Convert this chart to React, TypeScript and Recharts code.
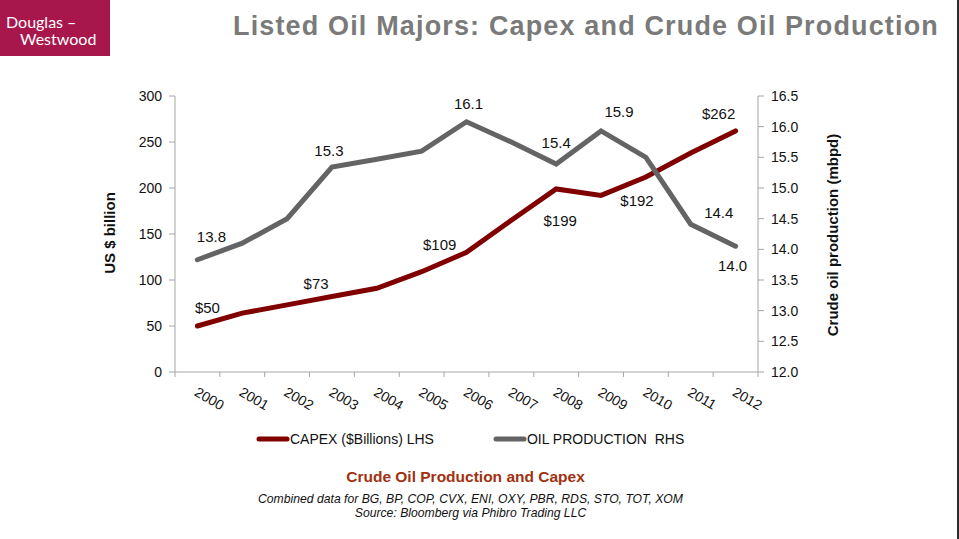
import { ComposedChart, Line, XAxis, YAxis, LabelList } from "recharts";

const years = ["2000", "2001", "2002", "2003", "2004", "2005", "2006", "2007", "2008", "2009", "2010", "2011", "2012"];
const capex = [50, 64, 73, 82, 91, 109, 130, 165, 199, 192, 212, 238, 262];
const oilProduction = [13.83, 14.1, 14.5, 15.34, 15.47, 15.6, 16.08, 15.75, 15.39, 15.93, 15.5, 14.41, 14.05];
const capexLabels = ["$50", null, "$73", null, null, "$109", null, null, "$199", "$192", null, null, "$262"];
const oilLabels = ["13.8", null, null, "15.3", null, null, "16.1", null, "15.4", "15.9", null, "14.4", "14.0"];
const leftTicks = [0, 50, 100, 150, 200, 250, 300];
const rightTicks = [12, 12.5, 13, 13.5, 14, 14.5, 15, 15.5, 16, 16.5];

// where each data label sits relative to its point (px)
const capexLabelNudge: [number, number][] = [[10, -19], [0, 0], [29, -21], [0, 0], [0, 0], [18, -27], [0, 0], [0, 0], [4, 32], [36, 5], [0, 0], [0, 0], [-17, -17]];
const oilLabelNudge: [number, number][] = [[14, -23], [0, 0], [0, 0], [-3, -17], [0, 0], [0, 0], [2, -18], [0, 0], [0, -22], [18, -19], [0, 0], [28, -12], [-3, 19]];

const data = years.map((year, i) => ({
  year,
  capex: capex[i],
  oil: oilProduction[i],
  capexLabel: capexLabels[i],
  oilLabel: oilLabels[i],
}));

const FONT = "'Liberation Sans', Arial, sans-serif";
const AXIS = "#a6a6a6";
const RED = "#800000";
const GREY = "#646464";
const PLOT_LEFT = 175;
const PLOT_RIGHT = 758;
const PLOT_BOTTOM = 372;
const BAND = (PLOT_RIGHT - PLOT_LEFT) / years.length;

const makeLabel = (nudge: [number, number][]) => (props: any) => {
  const { value, index } = props;
  if (value == null) return null;
  const x = props.viewBox?.x ?? props.x;
  const y = props.viewBox?.y ?? props.y;
  const [dx, dy] = nudge[index] || [0, -18];
  return (
    <text
      x={x + dx}
      y={y + dy}
      textAnchor="middle"
      dominantBaseline="central"
      fontSize={15}
      fontFamily={FONT}
      fill="#111"
    >
      {value}
    </text>
  );
};

const YearTick = (props: any) => {
  const { x, payload, index } = props;
  const tx = x - 4;
  const ty = 395;
  return (
    <g>
      <line x1={x - BAND / 2} y1={PLOT_BOTTOM} x2={x - BAND / 2} y2={PLOT_BOTTOM + 5} stroke={AXIS} />
      {index === years.length - 1 && (
        <line x1={x + BAND / 2} y1={PLOT_BOTTOM} x2={x + BAND / 2} y2={PLOT_BOTTOM + 5} stroke={AXIS} />
      )}
      <text
        x={tx}
        y={ty}
        transform={`rotate(30, ${tx}, ${ty})`}
        fontSize={14}
        fontFamily={FONT}
        fill="#111"
      >
        {payload.value}
      </text>
    </g>
  );
};

export default function App() {
  return (
    <div
      style={{
        position: "absolute",
        left: 0,
        top: 0,
        width: 959,
        height: 539,
        background: "#fff",
        fontFamily: FONT,
        overflow: "hidden",
      }}
    >
      {/* logo */}
      <div
        style={{
          position: "absolute",
          left: 0,
          top: 0,
          width: 110,
          height: 56,
          background: "#a8174c",
          color: "#fff",
          fontFamily: "Lato, 'Open Sans', sans-serif",
          fontSize: 16,
          lineHeight: "16px",
        }}
      >
        <div style={{ position: "absolute", left: 6, top: 14 }}>Douglas –</div>
        <div style={{ position: "absolute", left: 20, top: 31 }}>Westwood</div>
      </div>

      <div
        style={{
          position: "absolute",
          left: 233,
          top: 11,
          fontSize: 27,
          letterSpacing: 1.15,
          fontWeight: "bold",
          color: "#7a7a7a",
          whiteSpace: "nowrap",
        }}
      >
        Listed Oil Majors: Capex and Crude Oil Production
      </div>

      <div style={{ position: "absolute", left: 0, top: 0 }}>
        <ComposedChart
          width={959}
          height={539}
          data={data}
          margin={{ top: 96, right: 141, left: 115, bottom: 137 }}
        >
          <XAxis
            dataKey="year"
            height={30}
            interval={0}
            padding={{ left: BAND / 2, right: BAND / 2 }}
            tickLine={false}
            axisLine={{ stroke: AXIS }}
            tick={<YearTick />}
          />
          <YAxis
            yAxisId="left"
            width={60}
            domain={[0, 300]}
            ticks={leftTicks}
            interval={0}
            tickSize={6}
            tickMargin={7}
            axisLine={{ stroke: AXIS }}
            tickLine={{ stroke: AXIS }}
            tick={{ fontSize: 14, fill: "#111", fontFamily: FONT }}
          />
          <YAxis
            yAxisId="right"
            orientation="right"
            width={60}
            domain={[12, 16.5]}
            ticks={rightTicks}
            interval={0}
            tickSize={6}
            tickMargin={7}
            axisLine={{ stroke: AXIS }}
            tickLine={{ stroke: AXIS }}
            tick={{ fontSize: 14, fill: "#111", fontFamily: FONT }}
            tickFormatter={(v: number) => v.toFixed(1)}
          />
          <Line
            yAxisId="left"
            type="linear"
            dataKey="capex"
            stroke={RED}
            strokeWidth={5}
            strokeLinecap="round"
            dot={false}
            activeDot={false}
            isAnimationActive={false}
          >
            <LabelList dataKey="capexLabel" content={makeLabel(capexLabelNudge)} />
          </Line>
          <Line
            yAxisId="right"
            type="linear"
            dataKey="oil"
            stroke={GREY}
            strokeWidth={5}
            strokeLinecap="round"
            dot={false}
            activeDot={false}
            isAnimationActive={false}
          >
            <LabelList dataKey="oilLabel" content={makeLabel(oilLabelNudge)} />
          </Line>
        </ComposedChart>
      </div>

      {/* axis titles */}
      <div
        style={{
          position: "absolute",
          left: 109,
          top: 233,
          transform: "translate(-50%, -50%) rotate(-90deg)",
          fontSize: 15,
          fontWeight: "bold",
          whiteSpace: "nowrap",
          color: "#111",
        }}
      >
        US $ billion
      </div>
      <div
        style={{
          position: "absolute",
          left: 832,
          top: 235,
          transform: "translate(-50%, -50%) rotate(-90deg)",
          fontSize: 15,
          fontWeight: "bold",
          whiteSpace: "nowrap",
          color: "#111",
        }}
      >
        Crude oil production (mbpd)
      </div>

      {/* legend */}
      <div
        style={{
          position: "absolute",
          left: 256,
          top: 431,
          display: "flex",
          alignItems: "center",
          fontSize: 14,
          color: "#111",
          whiteSpace: "pre",
        }}
      >
        <svg width={34} height={8}>
          <line x1={3} y1={4} x2={31} y2={4} stroke={RED} strokeWidth={5} strokeLinecap="round" />
        </svg>
        <span>CAPEX ($Billions) LHS</span>
        <svg width={34} height={8} style={{ marginLeft: 59 }}>
          <line x1={3} y1={4} x2={31} y2={4} stroke={GREY} strokeWidth={5} strokeLinecap="round" />
        </svg>
        <span>OIL PRODUCTION  RHS</span>
      </div>

      {/* footer */}
      <div
        style={{
          position: "absolute",
          left: 0,
          width: 931,
          top: 468,
          textAlign: "center",
          fontSize: 15.5,
          fontWeight: "bold",
          color: "#a0320f",
        }}
      >
        Crude Oil Production and Capex
      </div>
      <div
        style={{
          position: "absolute",
          left: 0,
          width: 941,
          top: 492,
          textAlign: "center",
          fontSize: 12.2,
          fontStyle: "italic",
          color: "#111",
          lineHeight: "14px",
        }}
      >
        Combined data for BG, BP, COP, CVX, ENI, OXY, PBR, RDS, STO, TOT, XOM
        <br />
        Source: Bloomberg via Phibro Trading LLC
      </div>

      <div style={{ position: "absolute", left: 957, top: 0, width: 2, height: 539, background: "#2b2b2b" }} />
    </div>
  );
}
